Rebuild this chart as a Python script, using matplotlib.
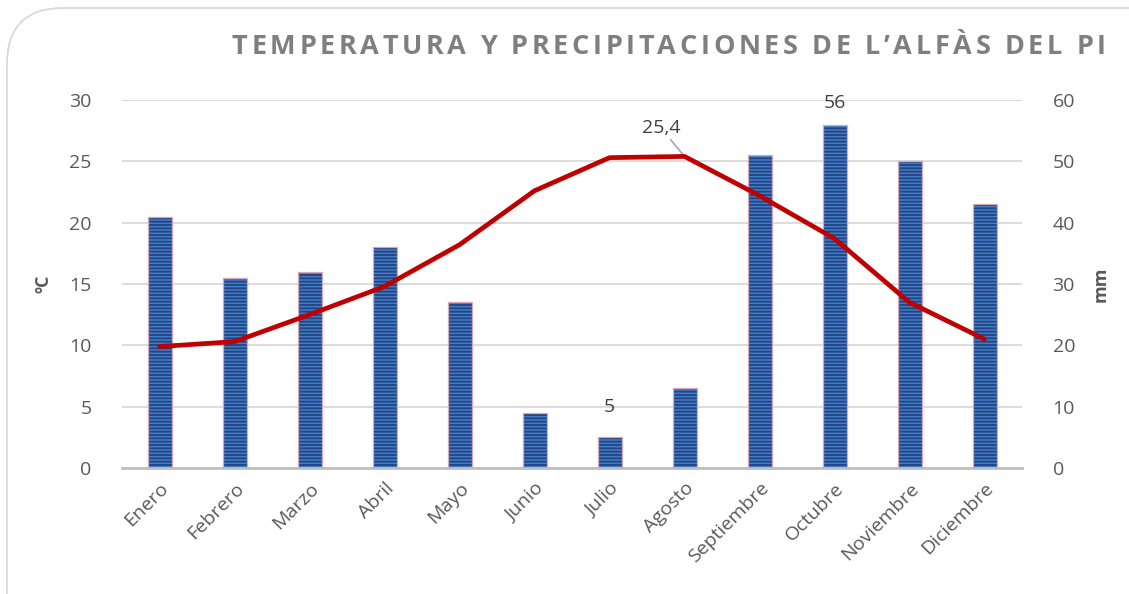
import matplotlib
matplotlib.use("Agg")
import matplotlib.pyplot as plt
from matplotlib.patches import FancyBboxPatch
import numpy as np

months = ["Enero", "Febrero", "Marzo", "Abril", "Mayo", "Junio", "Julio",
          "Agosto", "Septiembre", "Octubre", "Noviembre", "Diciembre"]
precip_mm = [41, 31, 32, 36, 27, 9, 5, 13, 51, 56, 50, 43]
temp_c = [9.9, 10.3, 12.5, 14.8, 18.2, 22.6, 25.3, 25.4, 22.2, 18.7, 13.5, 10.5]
temp_ticks = [0, 5, 10, 15, 20, 25, 30]
mm_ticks = [0, 10, 20, 30, 40, 50, 60]
title = "TEMPERATURA Y PRECIPITACIONES DE L\u2019ALF\u00c0S DEL PI"

plt.rcParams['font.family'] = ['Open Sans', 'DejaVu Sans']
plt.rcParams['hatch.linewidth'] = 1.3

W, H = 1129, 594
fig = plt.figure(figsize=(W / 100, H / 100), dpi=100)

# chart frame with rounded corners (cut off at right/bottom)
frame = FancyBboxPatch((7 / W, -0.2), 1.2, 1 - 8 / H + 0.2,
                       boxstyle="round,pad=0,rounding_size=0.05",
                       transform=fig.transFigure, facecolor="white",
                       edgecolor="#D9D9D9", linewidth=1.3, zorder=-10,
                       mutation_aspect=W / H)
fig.patches.append(frame)

left, right, top, bottom = 122 / W, 1022 / W, 1 - 100 / H, 1 - 468 / H
ax2 = fig.add_axes([left, bottom, right - left, top - bottom])  # bars (mm)
ax2.patch.set_visible(False)
ax1 = fig.add_axes([left, bottom, right - left, top - bottom], sharex=ax2)
ax2.set_zorder(1)
ax1.set_zorder(2)
ax1.patch.set_visible(False)

x = np.arange(len(months))
# bars
ax2.bar(x, precip_mm, width=0.32, color="#3B7FCB", edgecolor="#27427E",
        linewidth=0, hatch="-----", zorder=2)
ax2.bar(x, precip_mm, width=0.32, fill=False, edgecolor="#D9A7B6",
        linewidth=0.9, zorder=3)
ax2.set_ylim(0, 60)
ax2.set_yticks(mm_ticks)
ax2.yaxis.tick_right()
ax2.yaxis.set_label_position("right")
ax2.grid(axis="y", color="#D9D9D9", linewidth=1.3, zorder=0)
ax2.set_axisbelow(True)
ax2.set_xlim(-0.5, len(months) - 0.5)

# line
ax1.plot(x, temp_c, color="#C00000", linewidth=3.4, solid_capstyle="round",
         zorder=5)
ax1.set_ylim(0, 30)
ax1.set_yticks(temp_ticks)
ax1.yaxis.tick_left()
ax1.set_xlim(-0.5, len(months) - 0.5)

for a in (ax1, ax2):
    for s in a.spines.values():
        s.set_visible(False)
    a.tick_params(axis="both", length=0, labelsize=14, colors="#595959")
ax2.spines["bottom"].set_visible(True)
ax2.spines["bottom"].set_color("#BFBFBF")
ax2.spines["bottom"].set_linewidth(2)

ax1.tick_params(axis="y", pad=22)
ax2.tick_params(axis="y", pad=22)
ax2.set_xticks(x)
ax2.set_xticklabels(months, rotation=45, ha="right", va="top",
                    rotation_mode="anchor")
ax2.tick_params(axis="x", pad=8)
ax1.tick_params(axis="x", labelbottom=False)

ax1.set_ylabel("\u00baC", fontsize=13, fontweight="bold", color="#595959",
               labelpad=12)
ax2.set_ylabel("mm", fontsize=13, fontweight="bold", color="#595959",
               labelpad=12, rotation=90)

# data labels
ax2.annotate(str(precip_mm[6]), (x[6], precip_mm[6]), xytext=(0, 15),
             textcoords="offset points", ha="center", va="bottom",
             fontsize=14, color="#404040")
ax2.annotate(str(precip_mm[9]), (x[9], precip_mm[9]), xytext=(0, 9),
             textcoords="offset points", ha="center", va="bottom",
             fontsize=14, color="#404040")
ax1.annotate("25,4", (x[7], temp_c[7]), xytext=(-17, 14),
             textcoords="offset points", ha="center", va="bottom",
             fontsize=14, color="#404040",
             arrowprops=dict(arrowstyle="-", color="#A6A6A6", lw=1.2,
                             shrinkA=0, shrinkB=2))

# letter-spaced title, drawn char by char
renderer = fig.canvas.get_renderer()
xpos = 232
tracking = 3.6
for ch in title:
    t = fig.text(xpos / W, 1 - 47 / H, ch, fontsize=19.5, fontweight="bold",
                 color="#7F7F7F", ha="left", va="center",
                 family=["Open Sans", "DejaVu Sans"])
    bb = t.get_window_extent(renderer)
    xpos += bb.width + tracking

fig.savefig("out.png", dpi=100)
